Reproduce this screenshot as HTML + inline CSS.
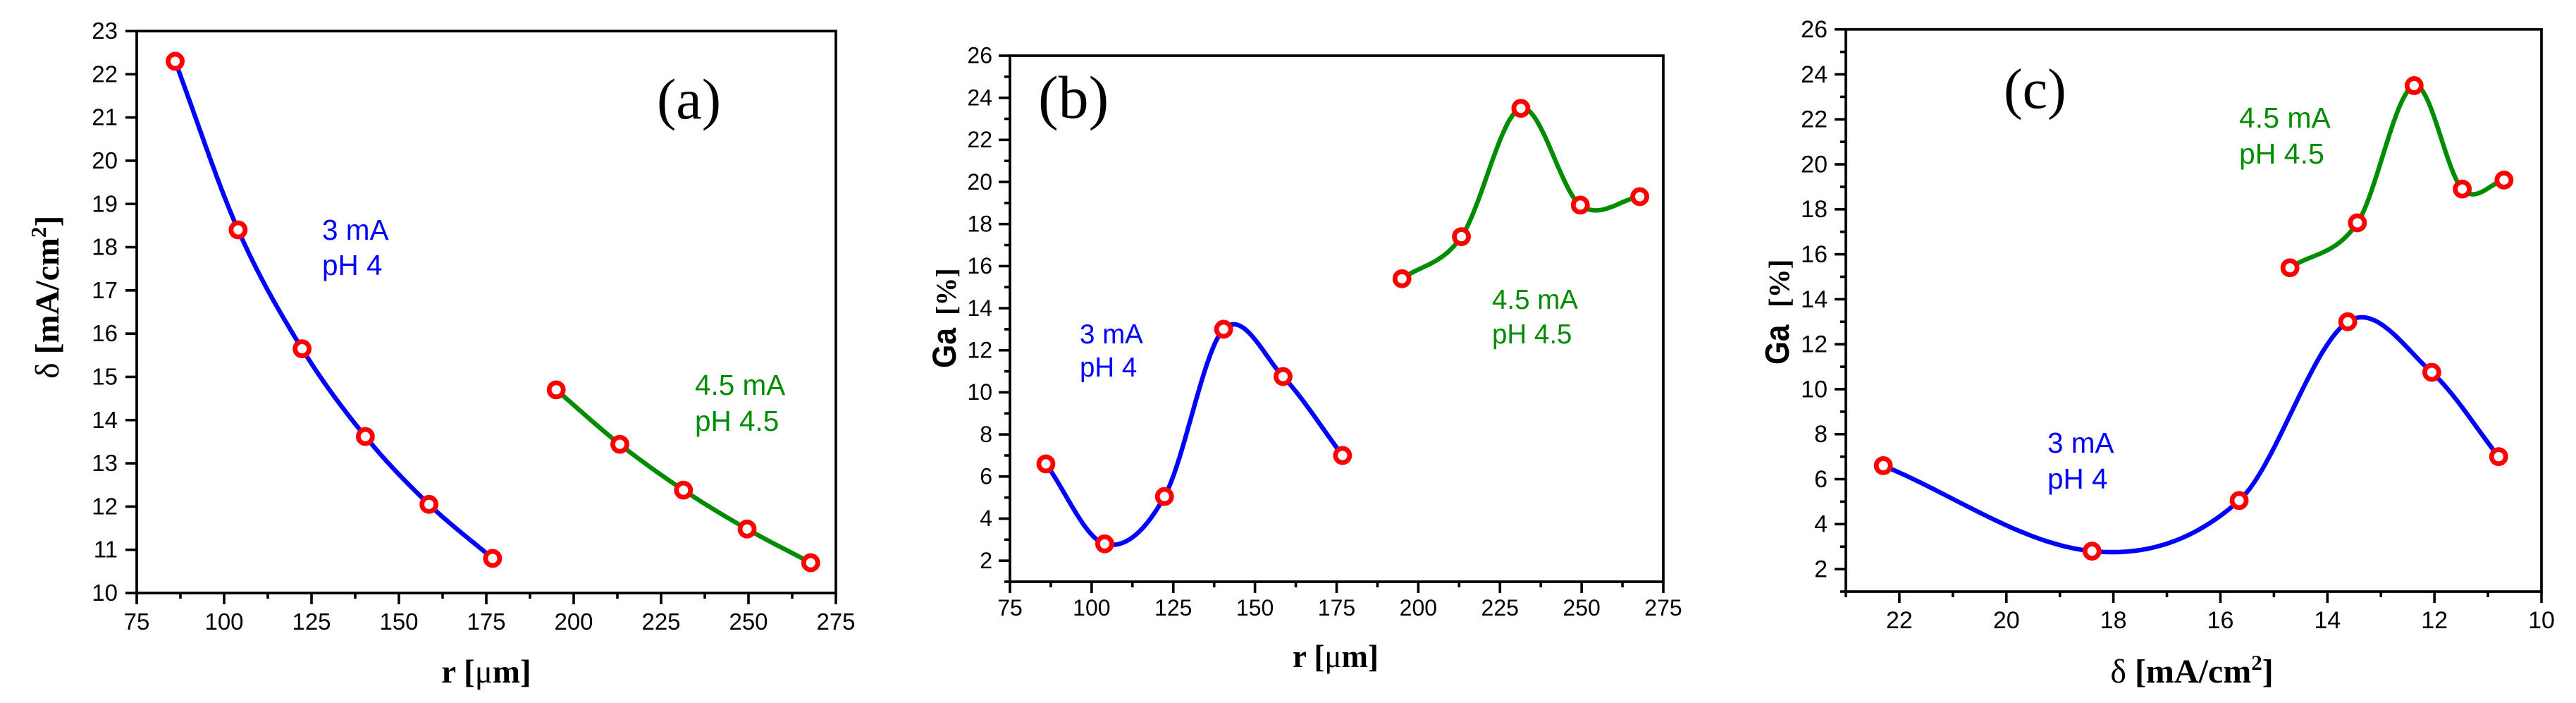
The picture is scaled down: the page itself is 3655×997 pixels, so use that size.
<!DOCTYPE html>
<html lang="en">
<head>
<meta charset="utf-8">
<title>Current density and Ga content versus radius</title>
<style>
html,body{margin:0;padding:0;background:#fff;width:3655px;height:997px;overflow:hidden}
svg{display:block}
.tick{font-family:"Liberation Sans",Arial,sans-serif;fill:#000}
.serif{font-family:"Liberation Serif","Times New Roman",serif;fill:#000}
.title{font-family:"Liberation Serif","Times New Roman",serif;font-weight:bold;fill:#000}
.sans{font-family:"Liberation Sans",Arial,sans-serif;font-weight:bold;fill:#000}
.thin{font-weight:normal}
.series{font-family:"Liberation Sans",Arial,sans-serif}
.blue{fill:#0000ff}
.green{fill:#008c00}
</style>
</head>
<body>
<svg id="fig" xmlns="http://www.w3.org/2000/svg" width="3655" height="997" viewBox="0 0 3655 997">
  <rect x="0" y="0" width="3655" height="997" fill="#ffffff"/>

  <g id="panel-a">
    <g id="marks-a"></g>
    <text class="serif" x="932" y="168" font-size="82">(a)</text>
    <text class="series blue" x="457" y="340" font-size="40.5">3 mA</text>
    <text class="series blue" x="457" y="390" font-size="40.5">pH 4</text>
    <text class="series green" x="986" y="560" font-size="40.5">4.5 mA</text>
    <text class="series green" x="986" y="611" font-size="40.5">pH 4.5</text>
    <text class="title" transform="translate(83,537) rotate(-90)" font-size="48"><tspan class="thin">δ</tspan> [mA/cm<tspan font-size="31" dy="-18">2</tspan><tspan dy="18">]</tspan></text>
    <text class="title" x="690" y="968" font-size="47" text-anchor="middle">r [<tspan class="thin">μ</tspan>m]</text>
  </g>

  <g id="panel-b">
    <g id="marks-b"></g>
    <text class="serif" x="1473" y="167" font-size="86">(b)</text>
    <text class="series blue" x="1532" y="487" font-size="38.5">3 mA</text>
    <text class="series blue" x="1532" y="534" font-size="38.5">pH 4</text>
    <text class="series green" x="2117" y="438" font-size="38.5">4.5 mA</text>
    <text class="series green" x="2117" y="487" font-size="38.5">pH 4.5</text>
    <text class="sans" transform="translate(1356,522) rotate(-90) scale(0.91,1)" font-size="47">Ga</text>
    <text class="title" transform="translate(1356,447) rotate(-90)" font-size="40">[%]</text>
    <text class="title" x="1895" y="946" font-size="45" text-anchor="middle">r [<tspan class="thin">μ</tspan>m]</text>
  </g>

  <g id="panel-c">
    <g id="marks-c"></g>
    <text class="serif" x="2843" y="153" font-size="80">(c)</text>
    <text class="series blue" x="2905" y="642" font-size="40.5">3 mA</text>
    <text class="series blue" x="2905" y="693" font-size="40.5">pH 4</text>
    <text class="series green" x="3177" y="181" font-size="41">4.5 mA</text>
    <text class="series green" x="3177" y="232" font-size="41">pH 4.5</text>
    <text class="sans" transform="translate(2538,517) rotate(-90) scale(0.88,1)" font-size="48">Ga</text>
    <text class="title" transform="translate(2538,436) rotate(-90)" font-size="41">[%]</text>
    <text class="title" x="3110" y="968" font-size="48" text-anchor="middle"><tspan class="thin">δ</tspan> [mA/cm<tspan font-size="31" dy="-18">2</tspan><tspan dy="18">]</tspan></text>
  </g>
</svg>

<script>
// ---- data ----
const radiusBlue = [86, 104, 122.3, 140.4, 158.6, 176.8];
const radiusGreen = [195, 213.2, 231.4, 249.6, 267.8];
const deltaBlue = [22.3, 18.4, 15.65, 13.62, 12.05, 10.8];
const deltaGreen = [14.7, 13.44, 12.38, 11.48, 10.7];
const gaBlue = [6.6, 2.8, 5.05, 13.0, 10.75, 7.0];
const gaGreen = [15.4, 17.4, 23.5, 18.9, 19.3];

// ---- tick labels ----
const radiusTicks = [75, 100, 125, 150, 175, 200, 225, 250, 275];
const radiusMinorTicks = [87.5, 112.5, 137.5, 162.5, 187.5, 212.5, 237.5, 262.5];
const deltaAxisTicks = [10, 11, 12, 13, 14, 15, 16, 17, 18, 19, 20, 21, 22, 23];
const deltaReversedTicks = [22, 20, 18, 16, 14, 12, 10];
const deltaReversedMinorTicks = [23, 21, 19, 17, 15, 13, 11];
const gaTicks = [2, 4, 6, 8, 10, 12, 14, 16, 18, 20, 22, 24, 26];
const gaMinorTicks = [1, 3, 5, 7, 9, 11, 13, 15, 17, 19, 21, 23, 25];

const NS = 'http://www.w3.org/2000/svg';

function make(tag, attrs) {
  const el = document.createElementNS(NS, tag);
  for (const k in attrs) el.setAttribute(k, attrs[k]);
  return el;
}

// cubic Hermite curve through the data points, tangents from neighbouring points
function smoothCurve(xs, ys) {
  const idx = xs.map((_, i) => i).sort((a, b) => xs[a] - xs[b]);
  const x = idx.map(i => xs[i]);
  const y = idx.map(i => ys[i]);
  const n = x.length;
  const m = x.map((_, i) => {
    const a = Math.max(i - 1, 0);
    const b = Math.min(i + 1, n - 1);
    return (y[b] - y[a]) / (x[b] - x[a]);
  });
  return function (t) {
    let i = 0;
    while (i < n - 2 && t > x[i + 1]) i++;
    const h = x[i + 1] - x[i];
    const u = (t - x[i]) / h;
    const u2 = u * u;
    const u3 = u2 * u;
    return (2 * u3 - 3 * u2 + 1) * y[i] + (u3 - 2 * u2 + u) * h * m[i] +
           (-2 * u3 + 3 * u2) * y[i + 1] + (u3 - u2) * h * m[i + 1];
  };
}

function drawPanel(p) {
  const root = document.getElementById(p.mount);
  const sx = v => p.left + (v - p.xMin) / (p.xMax - p.xMin) * (p.right - p.left);
  const sy = v => p.bottom - (v - p.yMin) / (p.yMax - p.yMin) * (p.bottom - p.top);

  // frame
  const frame = make('rect', {x: p.left, y: p.top, width: p.right - p.left, height: p.bottom - p.top, fill: 'none', stroke: '#000', 'stroke-width': 3.7});
  
  
  root.appendChild(frame);

  // x ticks
  p.xTicks.forEach(v => {
    const t = make('line', {x1: sx(v), x2: sx(v), y1: p.bottom, y2: p.bottom + 16, stroke: '#000', 'stroke-width': 3.6});
    
    
    root.appendChild(t);
    const l = make('text', {x: sx(v), y: p.xLabelY, 'text-anchor': 'middle', 'font-size': p.fontSize, class: 'tick'});
    l.textContent = v;
    
    
    root.appendChild(l);
  });
  p.xMinor.forEach(v => {
    const t = make('line', {x1: sx(v), x2: sx(v), y1: p.bottom, y2: p.bottom + 8, stroke: '#000', 'stroke-width': 3.6});
    
    
    root.appendChild(t);
  });

  // y ticks
  p.yTicks.forEach(v => {
    const t = make('line', {x1: p.left - 16, x2: p.left, y1: sy(v), y2: sy(v), stroke: '#000', 'stroke-width': 3.6});
    
    
    root.appendChild(t);
    const l = make('text', {x: p.yLabelX, y: sy(v) + p.fontSize * 0.335, 'text-anchor': 'end', 'font-size': p.fontSize, class: 'tick'});
    l.textContent = v;
    
    
    root.appendChild(l);
  });
  p.yMinor.forEach(v => {
    const t = make('line', {x1: p.left - 8, x2: p.left, y1: sy(v), y2: sy(v), stroke: '#000', 'stroke-width': 3.6});
    
    
    root.appendChild(t);
  });

  // series
  p.series.forEach(s => {
    const f = smoothCurve(s.x, s.y);
    const lo = Math.min.apply(null, s.x);
    const hi = Math.max.apply(null, s.x);
    const pts = [];
    const steps = 240;
    for (let i = 0; i <= steps; i++) {
      const t = lo + (hi - lo) * i / steps;
      pts.push(sx(t).toFixed(1) + ',' + sy(f(t)).toFixed(1));
    }
    const line = make('polyline', {points: pts.join(' '), fill: 'none', stroke: s.color, 'stroke-width': 6.4, 'stroke-linejoin': 'round'});
    
    
    root.appendChild(line);
    s.x.forEach((xv, i) => {
      const c = make('circle', {cx: sx(xv), cy: sy(s.y[i]), r: 10, fill: '#fff', stroke: '#ff0000', 'stroke-width': 6.8});
      
      
      root.appendChild(c);
    });
  });
}

drawPanel({
  mount: 'marks-a', left: 194, right: 1186, top: 44, bottom: 841,
  xMin: 75, xMax: 275, yMin: 10, yMax: 23,
  xTicks: radiusTicks, xMinor: radiusMinorTicks, yTicks: deltaAxisTicks, yMinor: [],
  xLabelY: 893, yLabelX: 167, fontSize: 33,
  series: [
    {x: radiusBlue, y: deltaBlue, color: '#0000ff'},
    {x: radiusGreen, y: deltaGreen, color: '#008c00'}
  ]
});

drawPanel({
  mount: 'marks-b', left: 1433, right: 2360, top: 79, bottom: 825,
  xMin: 75, xMax: 275, yMin: 1, yMax: 26,
  xTicks: radiusTicks, xMinor: radiusMinorTicks, yTicks: gaTicks, yMinor: gaMinorTicks,
  xLabelY: 873, yLabelX: 1408, fontSize: 32,
  series: [
    {x: radiusBlue, y: gaBlue, color: '#0000ff'},
    {x: radiusGreen, y: gaGreen, color: '#008c00'}
  ]
});

drawPanel({
  mount: 'marks-c', left: 2619, right: 3606, top: 41.7, bottom: 839,
  xMin: 23, xMax: 10, yMin: 1, yMax: 26,
  xTicks: deltaReversedTicks, xMinor: deltaReversedMinorTicks, yTicks: gaTicks, yMinor: gaMinorTicks,
  xLabelY: 891, yLabelX: 2593, fontSize: 34,
  series: [
    {x: deltaBlue, y: gaBlue, color: '#0000ff'},
    {x: deltaGreen, y: gaGreen, color: '#008c00'}
  ]
});
</script>
</body>
</html>
